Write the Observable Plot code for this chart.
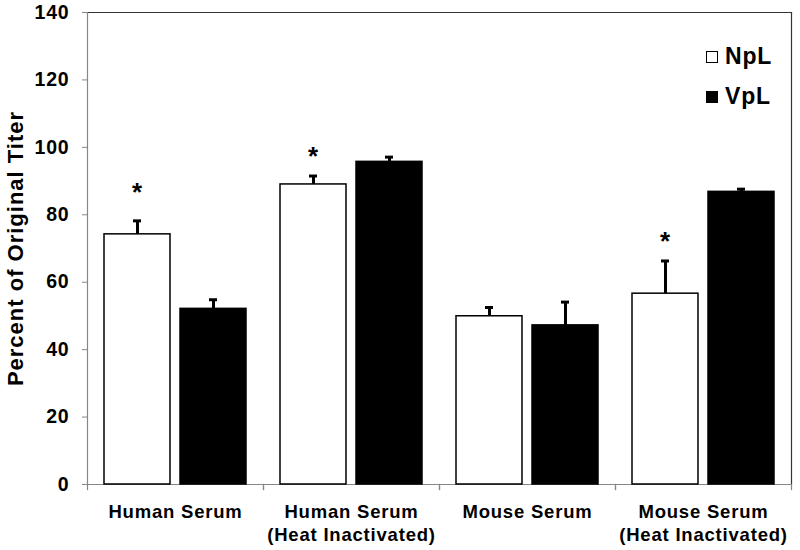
<!DOCTYPE html>
<html>
<head>
<meta charset="utf-8">
<script src="https://cdn.jsdelivr.net/npm/d3@7"></script>
<script src="https://cdn.jsdelivr.net/npm/@observablehq/plot@0.6"></script>
<style>
  html, body { margin: 0; padding: 0; background: #fff; }
  #wrap { position: relative; width: 800px; height: 550px; font-family: "Liberation Sans", Arial, sans-serif; }
  #wrap svg text { letter-spacing: 0.8px; }
  #wrap g[aria-label="y-axis label"] text { font-size: 22px; letter-spacing: 1px; }
  .legend { position: absolute; left: 706px; font-weight: bold; font-size: 23px; color: #000; display: flex; align-items: center; letter-spacing: 0.8px; }
  .legend .sw { width: 10px; height: 10px; border: 1.5px solid #000; margin-right: 7px; }
</style>
</head>
<body>
<div id="wrap"></div>
<script>
// ---- data ----
const groups = ["Human Serum", "Human Serum\n(Heat Inactivated)", "Mouse Serum", "Mouse Serum\n(Heat Inactivated)"];
const seriesNames = ["NpL", "VpL"];
const nplValues = [74.2, 89.0, 49.9, 56.6];
const nplErrors = [4.0, 2.5, 2.6, 9.7];
const vplValues = [52.1, 95.7, 47.2, 86.8];
const vplErrors = [2.7, 1.4, 6.9, 0.8];
const starGroupIndex = [0, 1, 3];
const starValues = [87.6, 98.3, 73.1];
const yTicks = [0, 20, 40, 60, 80, 100, 120, 140];
const seriesColors = ["#ffffff", "#000000"];

// ---- table ----
const rows = [];
groups.forEach((g, i) => {
  rows.push({group: g, series: seriesNames[0], value: nplValues[i], err: nplErrors[i]});
  rows.push({group: g, series: seriesNames[1], value: vplValues[i], err: vplErrors[i]});
});
const stars = starGroupIndex.map((gi, k) => ({group: groups[gi], series: seriesNames[0], y: starValues[k]}));

const W = 800, H = 550, mt = 12, mb = 66, ml = 86, mr = 8;
const innerH = H - mt - mb;
const axisGrey = "#878787";
const frameDark = "#333333";

const plot = Plot.plot({
  width: W,
  height: H,
  marginTop: mt,
  marginBottom: mb,
  marginLeft: ml,
  marginRight: mr,
  style: {fontFamily: "'Liberation Sans', Arial, sans-serif", fontWeight: "bold", fontSize: "18px", color: "#000", background: "#fff"},
  fx: {domain: groups, padding: 0},
  x: {domain: seriesNames, paddingInner: 0.13, paddingOuter: 0.211, axis: null},
  y: {domain: [0, 140], axis: null},
  color: {domain: seriesNames, range: seriesColors},
  marks: [
    Plot.axisFx({anchor: "bottom", tickSize: 0, tickPadding: 17, fontSize: 18.5, fontWeight: "bold", lineHeight: 1.25, label: null, tickFormat: d => d}),
    Plot.axisY({ticks: yTicks, tickSize: 5, tickPadding: 13, stroke: axisGrey, fontSize: 19.5, fontWeight: "bold",
      label: "Percent of Original Titer", labelAnchor: "center", labelOffset: 80, labelArrow: "none"}),
    Plot.frame({facet: "super", anchor: "top", stroke: frameDark, strokeWidth: 1.2}),
    Plot.frame({facet: "super", anchor: "right", stroke: frameDark, strokeWidth: 1.2}),
    Plot.frame({facet: "super", anchor: "left", stroke: axisGrey, strokeWidth: 1.2}),
    Plot.ruleY([0], {stroke: axisGrey, strokeWidth: 1.2}),
    Plot.frame({anchor: "left", insetTop: innerH, insetBottom: -5, stroke: axisGrey, strokeWidth: 1.2}),
    Plot.frame({anchor: "right", insetTop: innerH, insetBottom: -5, stroke: axisGrey, strokeWidth: 1.2}),
    Plot.ruleX(rows, {fx: "group", x: "series", y1: "value", y2: d => d.value + d.err, stroke: "#000", strokeWidth: 3}),
    Plot.tickY(rows, {fx: "group", x: "series", y: d => d.value + d.err, stroke: "#000", strokeWidth: 3, insetLeft: 29, insetRight: 29}),
    Plot.barY(rows, {fx: "group", x: "series", y: "value", fill: "series", stroke: "#000", strokeWidth: 1.5}),
    Plot.text(stars, {fx: "group", x: "series", y: "y", text: () => "*", fontSize: 26, fontWeight: "bold", dy: 4})
  ]
});

const wrap = document.getElementById("wrap");
wrap.appendChild(plot);

// legend (inside plot area, top right)
[["NpL", seriesColors[0], 43], ["VpL", seriesColors[1], 83]].forEach(([name, col, top]) => {
  const d = document.createElement("div");
  d.className = "legend";
  d.style.top = top + "px";
  const sw = document.createElement("span");
  sw.className = "sw";
  sw.style.background = col;
  d.appendChild(sw);
  const t = document.createElement("span");
  t.textContent = name;
  d.appendChild(t);
  wrap.appendChild(d);
});
</script>
</body>
</html>
